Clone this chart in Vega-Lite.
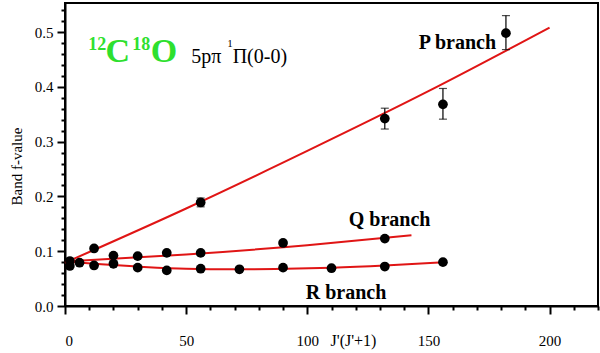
{
  "$schema": "https://vega.github.io/schema/vega-lite/v6.json",
  "width": 533,
  "height": 303,
  "autosize": "none",
  "padding": {"left": 65, "top": 3, "right": 2, "bottom": 47},
  "background": "white",
  "config": {
    "view": {"stroke": "black", "strokeWidth": 2},
    "font": "Liberation Serif",
    "style": {"guide-label": {"font": "Liberation Serif"}, "guide-title": {"font": "Liberation Serif"}},
    "axis": {
      "labelFont": "Liberation Serif", "titleFont": "Liberation Serif",
      "labelColor": "black", "titleColor": "black", "labelFontSize": 15, "titleFontSize": 15,
      "titleFontWeight": "normal", "domainColor": "black", "domainWidth": 2,
      "tickColor": "black", "tickWidth": 2, "grid": false
    }
  },
  "datasets": {
    "points": [
      {"branch": "P", "J": 12, "f": 0.105},
      {"branch": "P", "J": 56, "f": 0.189},
      {"branch": "P", "J": 132, "f": 0.342},
      {"branch": "P", "J": 156, "f": 0.368},
      {"branch": "P", "J": 182, "f": 0.498},
      {"branch": "Q", "J": 2, "f": 0.082},
      {"branch": "Q", "J": 6, "f": 0.079},
      {"branch": "Q", "J": 20, "f": 0.092},
      {"branch": "Q", "J": 30, "f": 0.091},
      {"branch": "Q", "J": 42, "f": 0.097},
      {"branch": "Q", "J": 56, "f": 0.097},
      {"branch": "Q", "J": 90, "f": 0.115},
      {"branch": "Q", "J": 132, "f": 0.123},
      {"branch": "R", "J": 2, "f": 0.073},
      {"branch": "R", "J": 12, "f": 0.074},
      {"branch": "R", "J": 20, "f": 0.077},
      {"branch": "R", "J": 30, "f": 0.070},
      {"branch": "R", "J": 42, "f": 0.065},
      {"branch": "R", "J": 56, "f": 0.068},
      {"branch": "R", "J": 72, "f": 0.067},
      {"branch": "R", "J": 90, "f": 0.070},
      {"branch": "R", "J": 110, "f": 0.069},
      {"branch": "R", "J": 132, "f": 0.072},
      {"branch": "R", "J": 156, "f": 0.080}
    ],
    "errors": [
      {"branch": "P", "J": 56, "lo": 0.181, "hi": 0.197},
      {"branch": "P", "J": 132, "lo": 0.323, "hi": 0.361},
      {"branch": "P", "J": 156, "lo": 0.341, "hi": 0.397},
      {"branch": "P", "J": 182, "lo": 0.468, "hi": 0.530}
    ],
    "fits": [
      {"branch": "P", "J": 0, "f": 0.079},
      {"branch": "P", "J": 50, "f": 0.178},
      {"branch": "P", "J": 100, "f": 0.283},
      {"branch": "P", "J": 150, "f": 0.392},
      {"branch": "P", "J": 200, "f": 0.508},
      {"branch": "Q", "J": 0, "f": 0.081},
      {"branch": "Q", "J": 50, "f": 0.094},
      {"branch": "Q", "J": 100, "f": 0.111},
      {"branch": "Q", "J": 143, "f": 0.129},
      {"branch": "R", "J": 0, "f": 0.081},
      {"branch": "R", "J": 15, "f": 0.076},
      {"branch": "R", "J": 30, "f": 0.072},
      {"branch": "R", "J": 50, "f": 0.068},
      {"branch": "R", "J": 70, "f": 0.067},
      {"branch": "R", "J": 90, "f": 0.068},
      {"branch": "R", "J": 110, "f": 0.070},
      {"branch": "R", "J": 132, "f": 0.074},
      {"branch": "R", "J": 156, "f": 0.080}
    ],
    "branchLabels": [
      {"text": "P branch", "J": 162, "f": 0.48},
      {"text": "Q branch", "J": 134, "f": 0.157},
      {"text": "R branch", "J": 116, "f": 0.024}
    ],
    "bigTitle": [
      {"text": "C", "J": 16.7, "f": 0.446},
      {"text": "O", "J": 35.4, "f": 0.446}
    ],
    "supTitle": [
      {"text": "12", "J": 9.6, "f": 0.468},
      {"text": "18", "J": 27.8, "f": 0.468}
    ],
    "stateTitle": [
      {"text": "5pπ", "J": 52.1, "f": 0.444},
      {"text": "Π(0-0)", "J": 69.2, "f": 0.444}
    ],
    "stateSup": [
      {"text": "1", "J": 67.0, "f": 0.472}
    ]
  },
  "resolve": {"axis": {"x": "independent", "y": "independent"}},
  "layer": [
    {
      "data": {"name": "fits"},
      "mark": {"type": "line", "color": "#e01515", "strokeWidth": 2, "interpolate": "monotone"},
      "encoding": {
        "x": {"field": "J", "type": "quantitative", "scale": {"domain": [0, 220], "nice": false},
          "axis": {"orient": "bottom", "values": [0, 50, 100, 150, 200], "tickSize": 8, "labelPadding": 19,
            "labelFont": "Liberation Serif", "labelFontSize": 15,
            "labelBaseline": "top", "title": "J'(J'+1)", "titleFont": "Liberation Serif", "titleX": 288, "titleY": 39, "titleAnchor": null, "titleAlign": "center", "titleBaseline": "alphabetic", "titleFontSize": 16}},
        "y": {"field": "f", "type": "quantitative", "scale": {"domain": [0, 0.553], "nice": false, "zero": false},
          "axis": {"orient": "left", "values": [0, 0.1, 0.2, 0.3, 0.4, 0.5], "format": ".1f", "tickSize": 8, "labelPadding": 4,
            "labelFont": "Liberation Serif", "labelFontSize": 15,
            "title": "Band f-value", "titleFont": "Liberation Serif", "titleX": -49, "titleY": 163, "titleAngle": 270, "titleAlign": "center", "titleBaseline": "middle", "titleFontSize": 15}},
        "detail": {"field": "branch"}
      }
    },
    {
      "data": {"name": "errors"},
      "mark": {"type": "rule", "color": "black", "strokeWidth": 1.2},
      "encoding": {
        "x": {"field": "J", "type": "quantitative", "axis": {"orient": "bottom", "values": [10, 20, 30, 40, 60, 70, 80, 90, 110, 120, 130, 140, 160, 170, 180, 190, 210, 220], "tickSize": 4, "labels": false, "domain": false, "title": null}},
        "y": {"field": "lo", "type": "quantitative", "axis": {"orient": "left", "values": [0.02, 0.04, 0.06, 0.08, 0.12, 0.14, 0.16, 0.18, 0.22, 0.24, 0.26, 0.28, 0.32, 0.34, 0.36, 0.38, 0.42, 0.44, 0.46, 0.48, 0.52, 0.54], "tickSize": 4, "labels": false, "domain": false, "title": null}},
        "y2": {"field": "hi"}
      }
    },
    {
      "data": {"name": "errors"},
      "mark": {"type": "tick", "color": "black", "orient": "horizontal", "size": 8, "thickness": 1.2},
      "encoding": {
        "x": {"field": "J", "type": "quantitative", "axis": null},
        "y": {"field": "lo", "type": "quantitative", "axis": null}
      }
    },
    {
      "data": {"name": "errors"},
      "mark": {"type": "tick", "color": "black", "orient": "horizontal", "size": 8, "thickness": 1.2},
      "encoding": {
        "x": {"field": "J", "type": "quantitative", "axis": null},
        "y": {"field": "hi", "type": "quantitative", "axis": null}
      }
    },
    {
      "data": {"name": "points"},
      "mark": {"type": "circle", "color": "black", "opacity": 1, "size": 95},
      "encoding": {
        "x": {"field": "J", "type": "quantitative", "axis": null},
        "y": {"field": "f", "type": "quantitative", "axis": null}
      }
    },
    {
      "data": {"name": "branchLabels"},
      "mark": {"type": "text", "font": "Liberation Serif", "fontWeight": "bold", "fontSize": 20, "align": "center", "baseline": "middle", "color": "black"},
      "encoding": {
        "x": {"field": "J", "type": "quantitative", "axis": null},
        "y": {"field": "f", "type": "quantitative", "axis": null},
        "text": {"field": "text"}
      }
    },
    {
      "data": {"name": "bigTitle"},
      "mark": {"type": "text", "font": "Liberation Serif", "fontWeight": "bold", "fontSize": 34, "align": "left", "baseline": "alphabetic", "color": "#2ee02e"},
      "encoding": {
        "x": {"field": "J", "type": "quantitative", "axis": null},
        "y": {"field": "f", "type": "quantitative", "axis": null},
        "text": {"field": "text"}
      }
    },
    {
      "data": {"name": "supTitle"},
      "mark": {"type": "text", "font": "Liberation Serif", "fontWeight": "bold", "fontSize": 18, "align": "left", "baseline": "alphabetic", "color": "#2ee02e"},
      "encoding": {
        "x": {"field": "J", "type": "quantitative", "axis": null},
        "y": {"field": "f", "type": "quantitative", "axis": null},
        "text": {"field": "text"}
      }
    },
    {
      "data": {"name": "stateTitle"},
      "mark": {"type": "text", "font": "Liberation Serif", "fontSize": 20, "align": "left", "baseline": "alphabetic", "color": "black"},
      "encoding": {
        "x": {"field": "J", "type": "quantitative", "axis": null},
        "y": {"field": "f", "type": "quantitative", "axis": null},
        "text": {"field": "text"}
      }
    },
    {
      "data": {"name": "stateSup"},
      "mark": {"type": "text", "font": "Liberation Serif", "fontSize": 11, "align": "left", "baseline": "alphabetic", "color": "black"},
      "encoding": {
        "x": {"field": "J", "type": "quantitative", "axis": null},
        "y": {"field": "f", "type": "quantitative", "axis": null},
        "text": {"field": "text"}
      }
    }
  ]
}
